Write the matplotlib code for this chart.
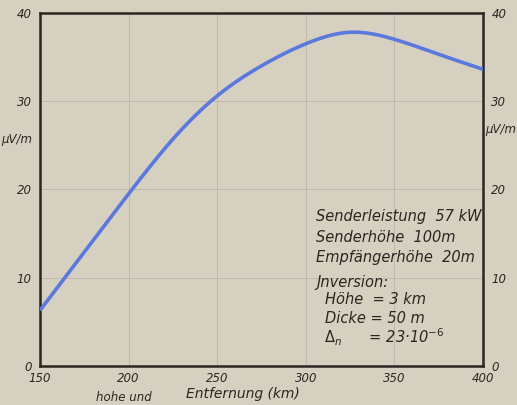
import matplotlib
matplotlib.use("Agg")
import matplotlib.pyplot as plt
import numpy as np

# data
distance_km = [150, 175, 200, 225, 250, 275, 300, 325, 350, 375, 400]
field_uv_m = [6.3, 12.9, 19.5, 25.7, 30.6, 34.0, 36.5, 37.8, 37.0, 35.3, 33.6]
x_ticks = [150, 200, 250, 300, 350, 400]
y_ticks = [0, 10, 20, 30, 40]
info_lines = ["Senderleistung  57 kW", "Senderhöhe  100m", "Empfängerhöhe  20m"]
inversion_lines = ["Jnversion:", "Höhe  = 3 km", "Dicke = 50 m", "$\\Delta_n$      = 23·10$^{-6}$"]

paper = "#d6d0c1"
ink = "#2a2622"


def natural_spline(xp, yp, xq):
    xp = np.asarray(xp, float)
    yp = np.asarray(yp, float)
    n = len(xp)
    h = np.diff(xp)
    A = np.zeros((n, n))
    b = np.zeros(n)
    A[0, 0] = A[-1, -1] = 1
    for i in range(1, n - 1):
        A[i, i - 1] = h[i - 1]
        A[i, i] = 2 * (h[i - 1] + h[i])
        A[i, i + 1] = h[i]
        b[i] = 6 * ((yp[i + 1] - yp[i]) / h[i] - (yp[i] - yp[i - 1]) / h[i - 1])
    M = np.linalg.solve(A, b)
    out = np.empty_like(xq)
    for j, x in enumerate(xq):
        k = min(np.searchsorted(xp, x, side="right") - 1, n - 2)
        t0 = xp[k + 1] - x
        t1 = x - xp[k]
        hk = h[k]
        out[j] = (M[k] * t0**3 / (6 * hk) + M[k + 1] * t1**3 / (6 * hk)
                  + (yp[k] / hk - M[k] * hk / 6) * t0
                  + (yp[k + 1] / hk - M[k + 1] * hk / 6) * t1)
    return out


fig = plt.figure(figsize=(5.17, 4.05), dpi=100, facecolor=paper)
ax = fig.add_axes([0.0774, 0.0963, 0.857, 0.872], facecolor=paper)

xs = np.linspace(150, 400, 400)
ys = natural_spline(distance_km, field_uv_m, xs)
ax.plot(xs, ys, color="#5b78dc", lw=2.6, solid_capstyle="butt", zorder=3)

ax.set_xlim(150, 400)
ax.set_ylim(0, 40)
ax.set_xticks(x_ticks)
ax.set_yticks(y_ticks)
ax.grid(True, color="#bfb9ab", lw=0.7)
for s in ax.spines.values():
    s.set_color(ink)
    s.set_linewidth(1.8)

tick_font = dict(fontsize=8.5, style="italic", color=ink)
ax.tick_params(axis="both", length=0, labelright=True, labelleft=True, pad=4)
for lab in ax.get_xticklabels() + ax.get_yticklabels():
    lab.set_fontsize(8.5)
    lab.set_style("italic")
    lab.set_color(ink)
ax.tick_params(axis="y", pad=6)

ax.text(-0.018, 0.64, "µV/m", transform=ax.transAxes, ha="right", va="center", **tick_font)
ax.text(1.005, 0.67, "µV/m", transform=ax.transAxes, ha="left", va="center", **tick_font)

fig.text(243 / 517, 1 - 394 / 405, "Entfernung (km)", fontsize=10, style="italic",
         color=ink, ha="center", va="center")

txt = dict(fontsize=10.5, style="italic", color=ink)
ys_info = [16.9, 14.5, 12.3]
for s, yv in zip(info_lines, ys_info):
    ax.text(306, yv, s, ha="left", va="center", **txt)
ys_inv = [9.5, 7.5, 5.4, 3.2]
xs_inv = [306, 311, 311, 310]
for s, yv, xv in zip(inversion_lines, ys_inv, xs_inv):
    ax.text(xv, yv, s, ha="left", va="center", **txt)

fig.text(0.24, 0.003, "hohe und", fontsize=8.5, style="italic", color=ink, ha="center", va="bottom")

fig.savefig("out.png", dpi=100, facecolor=paper)
